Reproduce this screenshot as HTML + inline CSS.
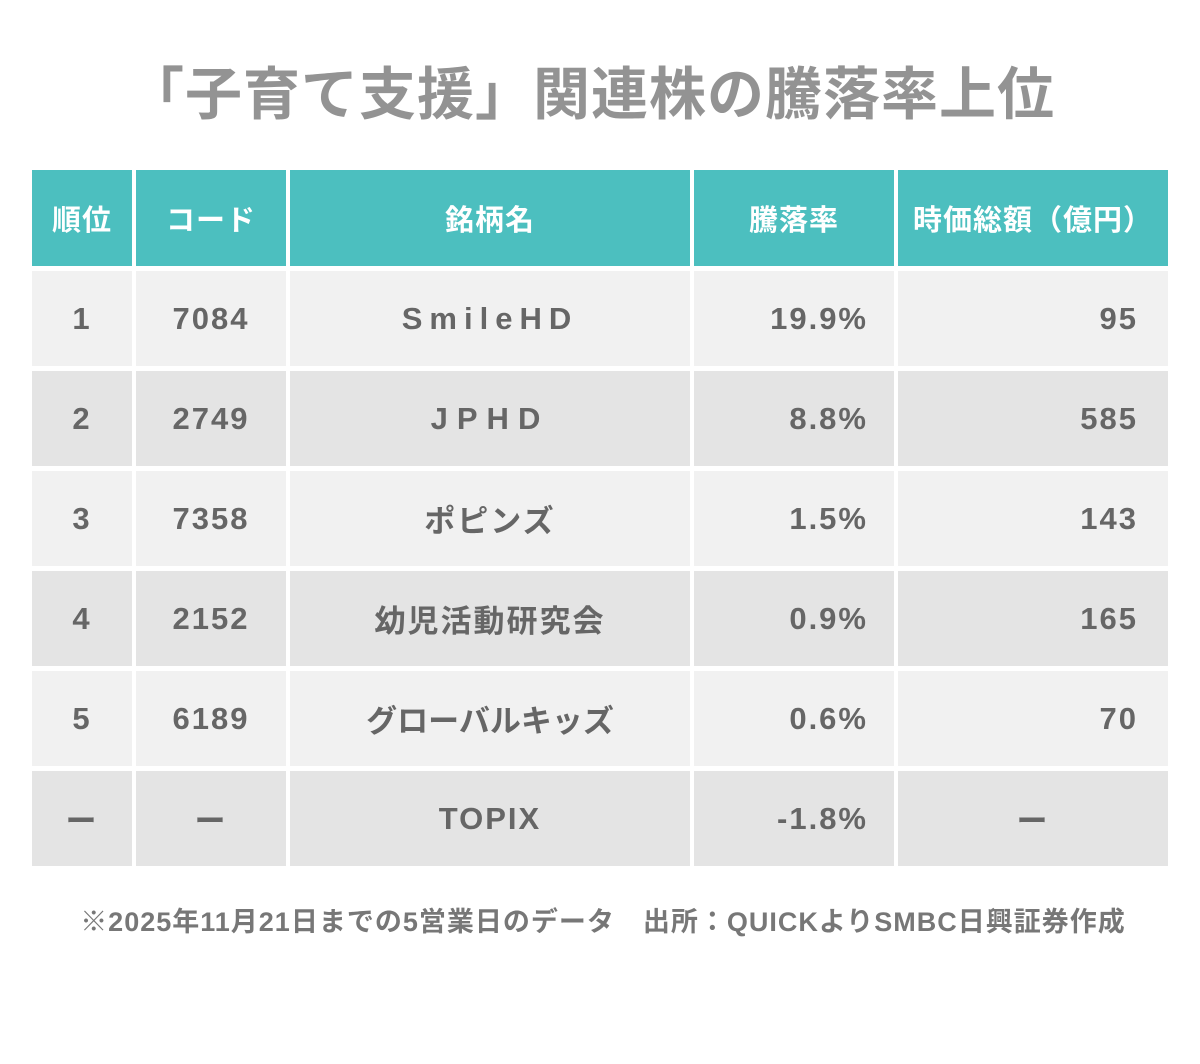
<!DOCTYPE html>
<html><head><meta charset="utf-8"><style>
body{margin:0;width:1200px;height:1064px;background:#fff;position:relative;overflow:hidden;font-family:"Liberation Sans","Noto Sans CJK JP",sans-serif;}
.t{position:absolute;left:-12px;width:1206px;top:56px;text-align:center;font-size:57px;font-weight:bold;color:#939393;line-height:78px;white-space:nowrap;letter-spacing:1px}
.c{position:absolute;display:flex;align-items:center;justify-content:center;font-size:31px;color:#666;box-sizing:border-box;font-weight:bold;letter-spacing:2px}
.h{background:#4cbfbf;color:#fff;font-size:29px;letter-spacing:1px}
.r{justify-content:flex-end}
.f{position:absolute;left:0;width:1206px;top:900px;text-align:center;font-size:27px;font-weight:bold;color:#777;white-space:nowrap;letter-spacing:1px}
</style></head><body>
<div class="t">「子育て支援」関連株の騰落率上位</div>
<div id="tb"></div>
<div class="f">※2025年11月21日までの5営業日のデータ　出所：QUICKよりSMBC日興証券作成</div>
<script>
var cols=[[32,100],[136,150],[290,400],[694,200],[898,270]];
var rows=[["順位","コード","銘柄名","騰落率","時価総額（億円）"],
["1","7084","<span style='letter-spacing:7px'>SmileHD</span>","19.9%","95"],
["2","2749","<span style='letter-spacing:9px'>JPHD</span>","8.8%","585"],
["3","7358","ポピンズ","1.5%","143"],
["4","2152","幼児活動研究会","0.9%","165"],
["5","6189","<span style='letter-spacing:0'>グローバルキッズ</span>","0.6%","70"],
["ー","ー","TOPIX","-1.8%","ー"]];
var h='';
rows.forEach(function(r,i){var top=170+i*100,ht=96;if(i>0){top=170+i*100+1;ht=95;}
r.forEach(function(v,j){var cls='c'+(i==0?' h':'');
var bg=i==0?'':(i%2?'#f1f1f1':'#e4e4e4');
var pad='';
if(i>0&&(j==3||(j==4&&v!='ー'))){cls+=' r';pad='padding-right:'+(j==3?26:30)+'px;';}
h+='<div class="'+cls+'" style="left:'+cols[j][0]+'px;width:'+cols[j][1]+'px;top:'+top+'px;height:'+ht+'px;'+(bg?'background:'+bg+';':'')+pad+'">'+v+'</div>';});});
document.getElementById('tb').innerHTML=h;
</script>
</body></html>
